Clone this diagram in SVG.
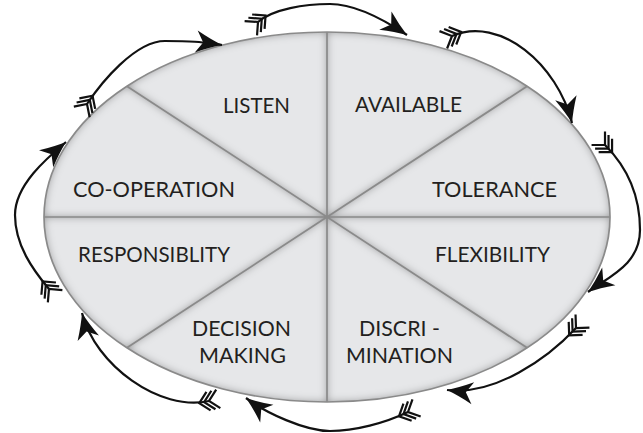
<svg xmlns="http://www.w3.org/2000/svg" width="643" height="433" viewBox="0 0 643 433">
  <style>
    .wedge { fill: #e6e7e9; filter: url(#inset); }
    .rim { fill: none; stroke: #8a8a8a; stroke-width: 1.7; stroke-linejoin: round; }
    .label { font-family: Lato, "Liberation Sans", sans-serif; font-size: 21px; fill: #231f20; }
    .cycle { fill: none; stroke: #111; stroke-width: 2.2; marker-start: url(#fletch); marker-end: url(#head); }
  </style>
  <defs>
    <!-- soft shading along the inside edge of every panel -->
    <filter id="inset" x="-10%" y="-10%" width="120%" height="120%">
      <feGaussianBlur in="SourceAlpha" stdDeviation="4" result="blur"/>
      <feComposite in="SourceAlpha" in2="blur" operator="arithmetic" k2="1" k3="-1" result="edge"/>
      <feFlood flood-color="#4a4a4a" flood-opacity="0.75" result="tint"/>
      <feComposite in="tint" in2="edge" operator="in" result="shade"/>
      <feMerge>
        <feMergeNode in="SourceGraphic"/>
        <feMergeNode in="shade"/>
      </feMerge>
    </filter>
    <!-- dart-shaped arrowhead, tip at the end of the path -->
    <marker id="head" markerUnits="userSpaceOnUse" orient="auto" viewBox="-30 -15 34 30" markerWidth="34" markerHeight="30" refX="0" refY="0">
      <path d="M0,0 Q-12,-4 -26,-11 L-19,0 L-26,11 Q-12,4 0,0 Z" fill="#111"/>
    </marker>
    <!-- three-chevron fletching at the start of the path -->
    <marker id="fletch" markerUnits="userSpaceOnUse" orient="auto" viewBox="-12 -12 26 24" markerWidth="26" markerHeight="24" refX="0" refY="0">
      <path d="M-9.5,-9.5 L0,0 L-9.5,9.5 M-4.5,-9.5 L5,0 L-4.5,9.5 M0.5,-9.5 L10,0 L0.5,9.5" fill="none" stroke="#111" stroke-width="2.2"/>
    </marker>
  </defs>

  <rect width="643" height="433" fill="#ffffff"/>

  <!-- eight panels of the ellipse (centre 327,217; radii 283 x 185) -->
  <g id="available">
    <path class="wedge" d="M327,217 L327,32 A283,185 0 0 1 527.1,86.2 Z"/>
    <text class="label" x="355" y="112" textLength="107" lengthAdjust="spacingAndGlyphs">AVAILABLE</text>
  </g>
  <g id="tolerance">
    <path class="wedge" d="M327,217 L527.1,86.2 A283,185 0 0 1 610,217 Z"/>
    <text class="label" x="432" y="197" textLength="125" lengthAdjust="spacingAndGlyphs">TOLERANCE</text>
  </g>
  <g id="flexibility">
    <path class="wedge" d="M327,217 L610,217 A283,185 0 0 1 527.1,347.8 Z"/>
    <text class="label" x="435" y="262" textLength="115" lengthAdjust="spacingAndGlyphs">FLEXIBILITY</text>
  </g>
  <g id="discrimination">
    <path class="wedge" d="M327,217 L527.1,347.8 A283,185 0 0 1 327,402 Z"/>
    <text class="label" x="359" y="336" textLength="81" lengthAdjust="spacingAndGlyphs">DISCRI -</text>
    <text class="label" x="346" y="363" textLength="107" lengthAdjust="spacingAndGlyphs">MINATION</text>
  </g>
  <g id="decision-making">
    <path class="wedge" d="M327,217 L327,402 A283,185 0 0 1 126.9,347.8 Z"/>
    <text class="label" x="192" y="336" textLength="99" lengthAdjust="spacingAndGlyphs">DECISION</text>
    <text class="label" x="199" y="363" textLength="87" lengthAdjust="spacingAndGlyphs">MAKING</text>
  </g>
  <g id="responsibility">
    <path class="wedge" d="M327,217 L126.9,347.8 A283,185 0 0 1 44,217 Z"/>
    <text class="label" x="78" y="262" textLength="152" lengthAdjust="spacingAndGlyphs">RESPONSIBLITY</text>
  </g>
  <g id="co-operation">
    <path class="wedge" d="M327,217 L44,217 A283,185 0 0 1 126.9,86.2 Z"/>
    <text class="label" x="73" y="197" textLength="162" lengthAdjust="spacingAndGlyphs">CO-OPERATION</text>
  </g>
  <g id="listen">
    <path class="wedge" d="M327,217 L126.9,86.2 A283,185 0 0 1 327,32 Z"/>
    <text class="label" x="223" y="113" textLength="67" lengthAdjust="spacingAndGlyphs">LISTEN</text>
  </g>

  <!-- dividing lines and outer rim -->
  <g id="outline">
    <ellipse class="rim" cx="327" cy="217" rx="283" ry="185" stroke="#9a9a9a" stroke-width="2"/>
    <path class="rim" d="M327,32 L327,402 M44,217 L610,217 M126.9,86.2 L527.1,347.8 M527.1,86.2 L126.9,347.8"/>
  </g>

  <!-- arrows running clockwise round the rim -->
  <g id="connectors">
    <path class="cycle" d="M49,289 C33,270 15,245 15,215 S47,158 66,142"/>
    <path class="cycle" d="M87,104 C101,83 135,41 165,41 S200,42 222,45"/>
    <path class="cycle" d="M258,22 C273,9 305,4 330,4 S386,21 407,35"/>
    <path class="cycle" d="M452,36 C500,15 558,65 572,123"/>
    <path class="cycle" d="M605,145 C626,166 640,195 640,230 S608,277 588,292"/>
    <path class="cycle" d="M576,328 C548,358 495,396 447,390"/>
    <path class="cycle" d="M408,412 C385,423 355,431 330,431 S266,413 246,398"/>
    <path class="cycle" d="M209,401 C160,412 95,365 82,313"/>
  </g>
</svg>
